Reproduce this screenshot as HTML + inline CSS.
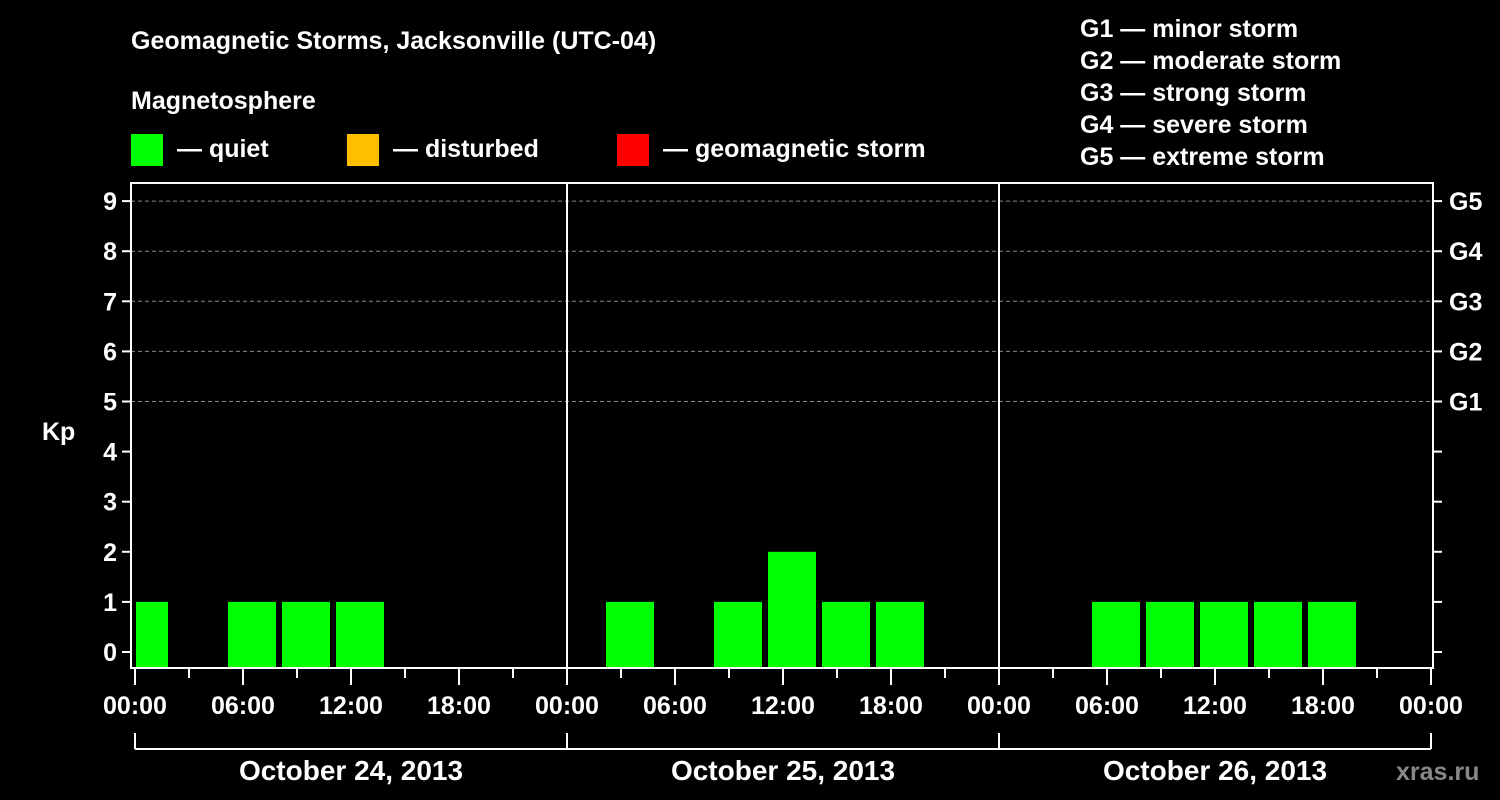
<!DOCTYPE html>
<html><head><meta charset="utf-8"><style>
html,body{margin:0;padding:0;background:#000;}
svg{display:block;font-family:"Liberation Sans",Arial,sans-serif;font-weight:bold;}
</style></head><body>
<svg id="chart" width="1500" height="800" viewBox="0 0 1500 800">
<rect width="1500" height="800" fill="#000"/>
<text x="131" y="49" fill="#fff" font-size="25">Geomagnetic Storms, Jacksonville (UTC-04)</text>
<text x="131" y="109" fill="#fff" font-size="25">Magnetosphere</text>
<g><rect x="131" y="134" width="32" height="32" fill="#00ff00"/><text x="177" y="157" fill="#fff" font-size="25">— quiet</text></g>
<g><rect x="347" y="134" width="32" height="32" fill="#ffbf00"/><text x="393" y="157" fill="#fff" font-size="25">— disturbed</text></g>
<g><rect x="617" y="134" width="32" height="32" fill="#ff0000"/><text x="663" y="157" fill="#fff" font-size="25">— geomagnetic storm</text></g>
<g fill="#fff" font-size="25">
<text x="1080" y="37">G1 — minor storm</text>
<text x="1080" y="69">G2 — moderate storm</text>
<text x="1080" y="101">G3 — strong storm</text>
<text x="1080" y="133">G4 — severe storm</text>
<text x="1080" y="165">G5 — extreme storm</text>
</g>
<text x="42" y="440" fill="#fff" font-size="25">Kp</text>
<text x="1396" y="780" fill="#888" font-size="25">xras.ru</text>
<g id="grid"></g><g id="bars"></g><g id="axes"></g>
</svg>
<script>
const kpValues=[1,null,1,1,1,null,null,null,null,1,null,1,2,1,1,null,null,null,1,1,1,1,1,null,null];
const binStartHour=-1;
const yTicks=[0,1,2,3,4,5,6,7,8,9];
const gLabels=["G1","G2","G3","G4","G5"];
const xLabels=["00:00","06:00","12:00","18:00"];
const dayLabels=["October 24, 2013","October 25, 2013","October 26, 2013"];
const NS="http://www.w3.org/2000/svg";
const X0=135,X1=1431,PT=183,PB=668,L=131,R=1433;
const x=h=>X0+(X1-X0)*h/72;
const y=k=>652-50.1*k;
function mk(tag,attrs,parent,text){const e=document.createElementNS(NS,tag);for(const k in attrs)e.setAttribute(k,attrs[k]);if(text!==undefined)e.textContent=text;parent.appendChild(e);return e;}
const grid=document.getElementById('grid'),bars=document.getElementById('bars'),axes=document.getElementById('axes');
for(let k=5;k<=9;k++){const g=mk('line',{x1:L,x2:R,y1:y(k),y2:y(k),stroke:'#888','stroke-dasharray':'4,3','stroke-width':1},grid);

}
kpValues.forEach((v,i)=>{if(v===null)return;let h0=binStartHour+3*i,h1=h0+3;let a=x(h0)+3,b=x(h1)-3;a=Math.max(a,L+5);b=Math.min(b,R-5);if(b<=a)return;
const c=v>=5?'#ff0000':(v>=4?'#ffbf00':'#00ff00');
const r=mk('rect',{x:a,y:y(v),width:b-a,height:PB-y(v),fill:c},bars);

});
const f=mk('rect',{x:L,y:PT,width:R-L,height:PB-PT,fill:'none',stroke:'#fff','stroke-width':2},axes);


[1,2].forEach(d=>{const l=mk('line',{x1:x(24*d),x2:x(24*d),y1:PT,y2:PB,stroke:'#fff','stroke-width':2},axes);

});
yTicks.forEach(k=>{mk('line',{x1:L-9,x2:L,y1:y(k),y2:y(k),stroke:'#fff','stroke-width':2},axes);mk('line',{x1:R,x2:R+9,y1:y(k),y2:y(k),stroke:'#fff','stroke-width':2},axes);
const t=mk('text',{x:117,y:y(k)+9,fill:'#fff','font-size':25,'text-anchor':'end'},axes,String(k));

});
gLabels.forEach((g,i)=>{const t=mk('text',{x:1449,y:y(5+i)+9,fill:'#fff','font-size':25},axes,g);

});
for(let h=0;h<=72;h+=3){const maj=h%6===0;mk('line',{x1:x(h),x2:x(h),y1:PB,y2:PB+(maj?17:10),stroke:'#fff','stroke-width':2},axes);
if(maj){const t=mk('text',{x:x(h),y:714,fill:'#fff','font-size':25,'text-anchor':'middle'},axes,xLabels[(h/6)%4]);

}}
mk('line',{x1:x(0),x2:x(72),y1:749,y2:749,stroke:'#fff','stroke-width':2},axes);
for(let d=0;d<=3;d++)mk('line',{x1:x(24*d),x2:x(24*d),y1:733,y2:749,stroke:'#fff','stroke-width':2},axes);
dayLabels.forEach((s,d)=>{const t=mk('text',{x:x(24*d+12),y:780,fill:'#fff','font-size':28,'text-anchor':'middle'},axes,s);

});
</script>
</body></html>
